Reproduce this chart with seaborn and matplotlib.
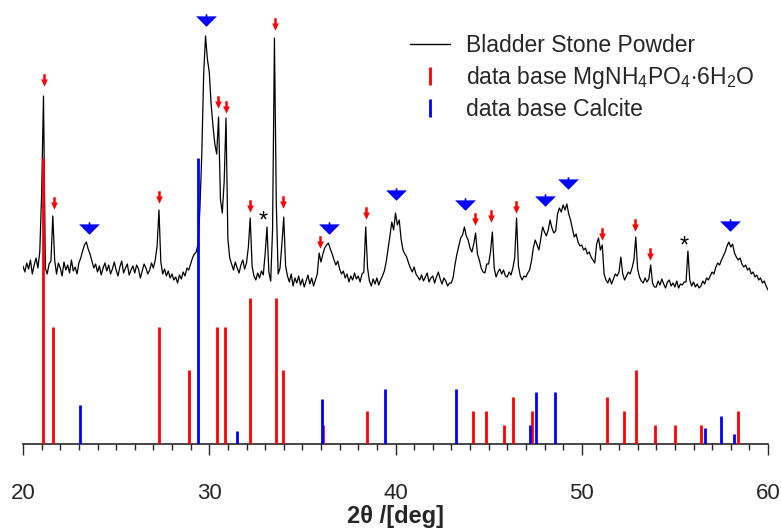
import matplotlib

matplotlib.use("Agg")
import matplotlib.pyplot as plt
import numpy as np
import pandas as pd
import seaborn as sns
from matplotlib.lines import Line2D

# measured powder pattern, 2theta step 0.1 deg (20.0 ... 60.0)
two_theta = np.round(np.arange(20.0, 60.05, 0.1), 1)
intensity = [
    178, 172, 181, 175, 184, 170, 179, 186, 176, 192,  # 20
    250, 348, 176, 170, 180, 183, 228, 184, 170, 181,  # 21
    176, 168, 182, 174, 179, 171, 184, 173, 177, 170,  # 22
    181, 186, 193, 199, 202, 195, 190, 183, 176, 180,  # 23
    172, 178, 169, 176, 181, 173, 179, 170, 175, 182,  # 24
    174, 168, 177, 183, 171, 176, 180, 169, 174, 178,  # 25
    171, 179, 175, 166, 173, 180, 176, 170, 174, 181,  # 26
    176, 184, 198, 234, 182, 170, 175, 168, 173, 166,  # 27
    170, 164, 167, 161, 169, 165, 172, 168, 176, 174,  # 28
    180, 186, 190, 192, 200, 236, 290, 370, 408, 385,  # 29
    372, 340, 318, 300, 290, 327, 245, 231, 262, 326,  # 30
    205, 186, 180, 174, 182, 176, 171, 179, 184, 175,  # 31
    181, 197, 226, 178, 168, 164, 171, 166, 173, 169,  # 32
    190, 217, 172, 163, 215, 406, 240, 170, 176, 200,  # 33
    227, 178, 168, 162, 170, 158, 166, 161, 168, 159,  # 34
    165, 157, 163, 169, 160, 166, 158, 164, 170, 191,  # 35
    182, 190, 196, 199, 201, 195, 190, 184, 179, 183,  # 36
    175, 170, 173, 166, 170, 162, 168, 164, 171, 165,  # 37
    168, 162, 170, 172, 217, 176, 163, 158, 165, 160,  # 38
    166, 159, 164, 168, 173, 182, 195, 208, 222, 214,  # 39
    231, 219, 224, 205, 194, 190, 187, 181, 176, 172,  # 40
    177, 170, 167, 164, 169, 163, 167, 171, 162, 166,  # 41
    168, 161, 167, 172, 165, 160, 166, 163, 158, 161,  # 42
    161, 167, 180, 190, 198, 206, 209, 217, 208, 204,  # 43
    196, 192, 200, 211, 190, 184, 176, 172, 171, 180,  # 44
    180, 192, 212, 176, 167, 172, 175, 170, 174, 168,  # 45
    167, 172, 169, 176, 186, 226, 178, 168, 164, 168,  # 46
    167, 171, 174, 183, 196, 204, 199, 194, 205, 217,  # 47
    212, 208, 214, 224, 216, 211, 213, 230, 236, 232,  # 48
    239, 234, 240, 230, 224, 215, 207, 210, 202, 198,  # 49
    199, 194, 196, 190, 192, 187, 184, 181, 200, 206,  # 50
    194, 199, 170, 164, 161, 166, 160, 165, 170, 168,  # 51
    172, 187, 170, 164, 168, 172, 170, 176, 184, 207,  # 52
    175, 167, 163, 161, 166, 162, 165, 179, 161, 157,  # 53
    157, 163, 159, 165, 160, 156, 162, 164, 158, 161,  # 54
    157, 163, 156, 160, 159, 162, 162, 193, 164, 158,  # 55
    162, 157, 160, 156, 158, 163, 160, 166, 164, 168,  # 56
    172, 170, 177, 181, 179, 184, 188, 192, 198, 202,  # 57
    197, 200, 191, 187, 184, 186, 180, 177, 179, 174,  # 58
    176, 170, 172, 167, 169, 164, 166, 161, 163, 158,  # 59
    154,  # 60
]

# reference stick patterns (relative intensity, %)
struvite_pos = [21.06, 21.63, 27.28, 28.91, 30.40, 30.83, 32.18, 33.56, 33.98, 36.10,
                38.48, 44.17, 44.85, 45.82, 46.32, 47.34, 51.33, 52.26, 52.90, 53.92,
                54.98, 56.41, 58.40]
struvite_int = [100, 41, 41, 26, 41, 41, 51, 51, 26, 6.6,
                11.5, 11.5, 11.5, 6.6, 16.4, 11.5, 16.4, 11.5, 26, 6.6,
                6.6, 6.6, 11.5]
calcite_pos = [23.08, 29.42, 31.49, 36.03, 39.45, 43.23, 47.20, 47.57, 48.59, 56.62,
               57.47, 58.17]
calcite_int = [13.6, 100, 4.5, 15.7, 19.2, 19.2, 6.6, 18.2, 18.2, 5.6,
               9.8, 3.5]

# peak assignments marked on the measured pattern
struvite_mark_x = [21.13, 21.66, 27.28, 30.47, 30.91, 32.17, 33.54, 33.96, 35.94, 38.41,
                   44.26, 45.12, 46.46, 51.09, 52.87, 53.64]
struvite_mark_y = [364, 241, 247, 342, 337, 238, 420, 242, 202, 231,
                   225, 228, 237, 210, 219, 190]
calcite_mark_x = [23.54, 29.82, 36.44, 40.02, 43.71, 48.04, 49.24, 57.97]
calcite_mark_y = [217, 425, 217, 251, 241, 245, 262, 220]
unknown_x = [32.92, 55.50]
unknown_y = [222, 197]

stick_scale = 2.86

sns.set_style("ticks")
plt.rcParams["font.family"] = ["Liberation Sans", "DejaVu Sans"]
plt.rcParams["mathtext.fontset"] = "custom"
plt.rcParams["mathtext.rm"] = "Liberation Sans"
plt.rcParams["mathtext.it"] = "Liberation Sans:italic"
plt.rcParams["mathtext.bf"] = "Liberation Sans:bold"

fig = plt.figure(figsize=(7.81, 5.32), dpi=100)
ax = fig.add_axes([23 / 781, 88 / 532, 745 / 781, 434 / 532])

df = pd.DataFrame({"two_theta": two_theta, "intensity": intensity})
sns.lineplot(data=df, x="two_theta", y="intensity", color="black", lw=0.9, ax=ax, zorder=2)

ax.vlines(struvite_pos, 0, np.array(struvite_int) * stick_scale, color="#ff0000", lw=2.0, zorder=3)
ax.vlines(calcite_pos, 0, np.array(calcite_int) * stick_scale, color="#0000ff", lw=2.0, zorder=3)

red_arrow = [(-0.12, 0.6), (0.12, 0.6), (0.12, 0.1), (0.32, 0.1), (0, -0.6), (-0.32, 0.1), (-0.12, 0.1)]
blue_tri = [(-1, 0.3), (-0.08, 0.3), (-0.08, 0.5), (0.08, 0.5), (0.08, 0.3), (1, 0.3), (0, -0.7)]
ax.plot(struvite_mark_x, struvite_mark_y, ls="none", marker=red_arrow, ms=9, color="#ff0000", mew=0, zorder=4)
ax.plot(calcite_mark_x, calcite_mark_y, ls="none", marker=blue_tri, ms=15, color="#0000ff", mew=0, zorder=4)
for x, y in zip(unknown_x, unknown_y):
    ax.text(x, y, "*", ha="center", va="center", fontsize=17, color="black")

ax.set_xlim(20, 60)
ax.set_ylim(0, 434)
ax.set_xticks([20, 30, 40, 50, 60])
ax.set_xticks(np.arange(20, 61, 1), minor=True)
ax.set_yticks([])
ax.tick_params(axis="x", which="major", direction="out", length=8, width=1, labelsize=16, pad=20)
ax.tick_params(axis="x", which="minor", direction="out", length=4, width=1)
for side in ["top", "left", "right"]:
    ax.spines[side].set_visible(False)
ax.spines["bottom"].set_linewidth(1.2)
ax.set_xlabel("2θ /[deg]", fontsize=17, fontweight="bold", labelpad=1)
ax.set_ylabel("")

handles = [
    Line2D([], [], color="black", lw=1),
    Line2D([], [], color="#ff0000", marker="|", ls="none", ms=13, mew=2),
    Line2D([], [], color="#0000ff", marker="|", ls="none", ms=13, mew=2),
]
labels = ["Bladder Stone Powder", r"data base MgNH$_4$PO$_4$$\cdot$6H$_2$O", "data base Calcite"]
ax.legend(handles, labels, loc="upper left", bbox_to_anchor=(0.507, 0.965), frameon=False,
          fontsize=16.5, handlelength=1.75, handletextpad=0.7, labelspacing=0.3, borderaxespad=0)

fig.savefig("out.png", dpi=100)
